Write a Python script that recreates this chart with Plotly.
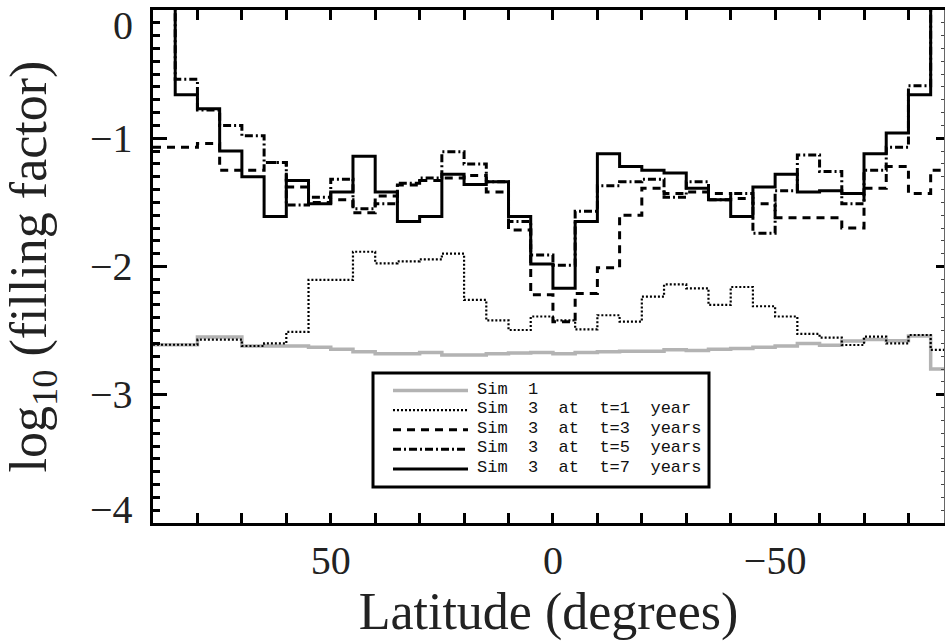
import plotly.graph_objects as go

# 5-degree latitude bins, north pole to south pole
lat_edges = list(range(90, -95, -5))

sim1 = [-2.61, -2.61, -2.55, -2.55, -2.62, -2.62, -2.62, -2.63, -2.645, -2.665,
        -2.68, -2.68, -2.67, -2.69, -2.69, -2.68, -2.675, -2.67, -2.68, -2.67,
        -2.665, -2.66, -2.66, -2.65, -2.655, -2.645, -2.64, -2.63, -2.62, -2.60,
        -2.615, -2.58, -2.57, -2.578, -2.542, -2.80]
sim3_t1 = [-2.61, -2.61, -2.57, -2.57, -2.62, -2.60, -2.51, -2.105, -2.105, -1.885,
           -1.975, -1.96, -1.945, -1.90, -2.26, -2.42, -2.495, -2.39, -2.42, -2.49,
           -2.38, -2.43, -2.235, -2.14, -2.17, -2.30, -2.16, -2.31, -2.39, -2.526,
           -2.555, -2.612, -2.547, -2.60, -2.534, -2.65]
sim3_t3 = [-1.07, -1.07, -1.04, -1.25, -1.25, -1.19, -1.38, -1.50, -1.48, -1.58,
           -1.45, -1.365, -1.33, -1.31, -1.29, -1.42, -1.715, -2.22, -2.43, -2.21,
           -2.01, -1.60, -1.39, -1.43, -1.42, -1.43, -1.47, -1.51, -1.62, -1.62,
           -1.62, -1.70, -1.39, -1.22, -1.43, -1.25]
sim3_t5 = [0.3, -0.54, -0.78, -0.90, -0.98, -1.19, -1.52, -1.46, -1.32, -1.55,
           -1.51, -1.35, -1.31, -1.105, -1.20, -1.34, -1.65, -1.91, -1.99, -1.57,
           -1.37, -1.34, -1.32, -1.46, -1.34, -1.48, -1.43, -1.74, -1.41, -1.13,
           -1.26, -1.51, -1.25, -1.07, -0.59, 0.3]
sim3_t7 = [0.3, -0.66, -0.77, -1.10, -1.30, -1.61, -1.33, -1.51, -1.42, -1.14,
           -1.42, -1.65, -1.61, -1.28, -1.36, -1.34, -1.61, -1.98, -2.17, -1.65,
           -1.12, -1.22, -1.25, -1.27, -1.39, -1.48, -1.61, -1.38, -1.28, -1.42,
           -1.41, -1.43, -1.12, -0.96, -0.66, 0.3]

series_names = ["Sim 1", "Sim 3 at t=1 year", "Sim 3 at t=3 years",
                "Sim 3 at t=5 years", "Sim 3 at t=7 years"]
series_values = [sim1, sim3_t1, sim3_t3, sim3_t5, sim3_t7]

y_tick_vals = [0, -1, -2, -3, -4]
y_tick_text = ["0", "\u22121", "\u22122", "\u22123", "\u22124"]

line_styles = [
    dict(color="#b3b3b3", width=3.5, dash="solid"),
    dict(color="black", width=2.2, dash="2px,2px"),
    dict(color="black", width=3, dash="8px,6px"),
    dict(color="black", width=3, dash="8px,3px,2px,3px"),
    dict(color="black", width=3, dash="solid"),
]

# plot-area geometry in page pixels
W, H = 945, 641
L_PX, R_PX, T_PX, B_PX = 153, 944, 10, 523


def fx(px):
    return (px - L_PX) / (R_PX - L_PX)


def fy(py):
    return (B_PX - py) / (B_PX - T_PX)


TICK_FONT = dict(family="Liberation Serif", size=40, color="#222")
TITLE_FONT = dict(family="Liberation Serif", size=52, color="#222")
LEG_FONT = dict(family="Liberation Mono", size=17, color="#111")

fig = go.Figure()

for name, vals, st in zip(series_names, series_values, line_styles):
    fig.add_trace(go.Scatter(
        x=lat_edges, y=vals + [vals[-1]], mode="lines", name=name,
        line=dict(shape="hv", **st), showlegend=False,
    ))

# right-hand axis: thin line carrying mirrored ticks
fig.add_trace(go.Scatter(x=[0], y=[-10], yaxis="y2", mode="lines",
                         showlegend=False, hoverinfo="skip"))

shapes = []
annotations = []

# y tick labels, kept inside the axis span at the ends
for v, t in zip(y_tick_vals, y_tick_text):
    shift = 0
    if v == max(y_tick_vals):
        shift = -15
    elif v == min(y_tick_vals):
        shift = 14
    annotations.append(dict(
        xref="paper", yref="y", x=0, y=v, xanchor="right", yanchor="middle",
        xshift=-18, yshift=shift, text=t, showarrow=False, font=TICK_FONT,
    ))

# legend box
shapes.append(dict(type="rect", xref="paper", yref="paper",
                   x0=fx(373), x1=fx(709), y0=fy(487), y1=fy(373),
                   line=dict(color="black", width=3), fillcolor="white",
                   layer="above"))
for i, (name, st) in enumerate(zip(series_names, line_styles)):
    yy = 390.5 + i * 19.6
    shapes.append(dict(type="line", xref="paper", yref="paper",
                       x0=fx(393), x1=fx(468), y0=fy(yy), y1=fy(yy),
                       line=st, layer="above"))
    annotations.append(dict(
        xref="paper", yref="paper", x=fx(476), y=fy(yy - 1.5),
        xanchor="left", yanchor="middle", showarrow=False,
        text=name.replace(" ", " \u00a0"), font=LEG_FONT, borderpad=0,
    ))

fig.update_layout(
    width=W, height=H,
    margin=dict(l=L_PX, r=W - R_PX, t=T_PX, b=H - B_PX, autoexpand=False),
    paper_bgcolor="white", plot_bgcolor="white",
    shapes=shapes, annotations=annotations,
    xaxis=dict(
        range=[90, -88], tickmode="linear", tick0=0, dtick=50,
        ticks="inside", ticklen=10, tickwidth=3, tickcolor="black",
        minor=dict(dtick=10, tick0=0, ticks="inside", ticklen=5,
                   tickwidth=3, tickcolor="black", showgrid=False),
        showline=True, linewidth=3, linecolor="black", mirror="allticks",
        showgrid=False, zeroline=False,
        tickfont=TICK_FONT, ticklabelstandoff=0,
        title=dict(text="Latitude (degrees)", font=TITLE_FONT, standoff=3),
    ),
    yaxis=dict(
        range=[-4, 0], tickmode="linear", tick0=0, dtick=1,
        ticks="inside", ticklen=14, tickwidth=3, tickcolor="black",
        minor=dict(dtick=0.1, tick0=0, ticks="inside", ticklen=7,
                   tickwidth=3, tickcolor="black", showgrid=False),
        showline=True, linewidth=3, linecolor="black", mirror=False,
        showgrid=False, zeroline=False, showticklabels=False,
        title=dict(text="log<sub>10</sub> (filling factor)", font=TITLE_FONT,
                   standoff=90),
    ),
    yaxis2=dict(
        overlaying="y", side="right", range=[-4, 0], tickmode="linear",
        tick0=0, dtick=1, ticks="inside", ticklen=8, tickwidth=3,
        tickcolor="black",
        minor=dict(dtick=0.1, tick0=0, ticks="inside", ticklen=3,
                   tickwidth=1, tickcolor="#444", showgrid=False),
        showline=True, linewidth=1, linecolor="#666",
        showgrid=False, zeroline=False, showticklabels=False,
    ),
)

fig.write_html("out.html")
